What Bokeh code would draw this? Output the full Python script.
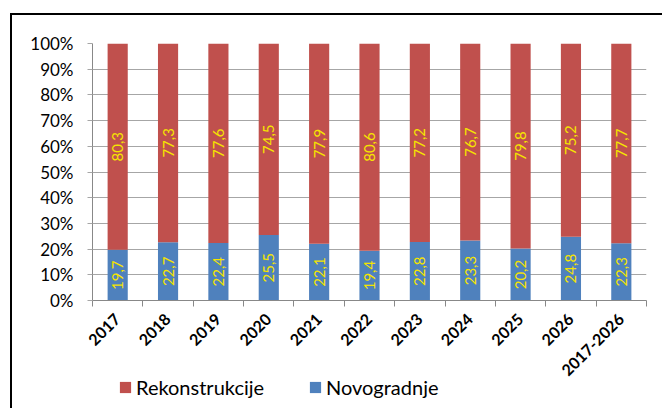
import math
from bokeh.plotting import figure
from bokeh.layouts import column
from bokeh.models import (Range1d, LinearAxis, FixedTicker,
                          PrintfTickFormatter, Legend, LegendItem, ColumnDataSource)
from bokeh.core.properties import value
from bokeh.embed import file_html
from bokeh.resources import INLINE

categories = ["2017", "2018", "2019", "2020", "2021", "2022", "2023", "2024", "2025", "2026", "2017-2026"]
novogradnje = [19.7, 22.7, 22.4, 25.5, 22.1, 19.4, 22.8, 23.3, 20.2, 24.8, 22.3]
rekonstrukcije = [80.3, 77.3, 77.6, 74.5, 77.9, 80.6, 77.2, 76.7, 79.8, 75.2, 77.7]
y_ticks = [0, 10, 20, 30, 40, 50, 60, 70, 80, 90, 100]

RED = "#C0504D"
BLUE = "#4F81BD"
LABEL = "#F5E400"
FONT = "Lato"

n = len(categories)
xs = [i + 0.5 for i in range(n)]

src = ColumnDataSource(dict(
    x=xs,
    novo=novogradnje,
    rek=rekonstrukcije,
    novo_mid=[v / 2 for v in novogradnje],
    rek_mid=[a + b / 2 for a, b in zip(novogradnje, rekonstrukcije)],
    novo_txt=[f"{v:.1f}".replace(".", ",") for v in novogradnje],
    rek_txt=[f"{v:.1f}".replace(".", ",") for v in rekonstrukcije],
))

p = figure(width=650, height=368, x_range=Range1d(0, n),
           y_range=Range1d(0, 100), output_backend="svg", toolbar_location=None,
           x_axis_location=None, y_axis_location=None,
           min_border_left=80, min_border_right=16, min_border_top=28, min_border_bottom=83)
p.outline_line_color = None
p.background_fill_color = "white"
p.border_fill_color = "white"

rs = p.vbar_stack(["novo", "rek"], x="x", width=0.4, color=[BLUE, RED], line_color=None, source=src)

p.text(x="x", y="novo_mid", text="novo_txt", angle=math.pi / 2, source=src,
       text_align="center", text_baseline="middle", text_color=LABEL,
       text_font=value(FONT), text_font_size="15px")
p.text(x="x", y="rek_mid", text="rek_txt", angle=math.pi / 2, source=src,
       text_align="center", text_baseline="middle", text_color=LABEL,
       text_font=value(FONT), text_font_size="15px")

# y axis
yax = LinearAxis(ticker=FixedTicker(ticks=y_ticks), formatter=PrintfTickFormatter(format="%d%%"))
yax.axis_line_color = "#888888"
yax.major_tick_line_color = "#a6a6a6"
yax.major_tick_out = 5
yax.major_tick_in = 0
yax.minor_tick_line_color = None
yax.major_label_standoff = 14
yax.major_label_text_font = FONT
yax.major_label_text_font_size = "17px"
yax.major_label_text_color = "black"
p.add_layout(yax, "left")

p.ygrid.ticker = FixedTicker(ticks=y_ticks)
p.ygrid.grid_line_color = "#a6a6a6"
p.xgrid.grid_line_color = None

# boundary ticks axis
bounds = list(range(n + 1))
tax = LinearAxis(ticker=FixedTicker(ticks=bounds))
tax.major_label_overrides = {i: "" for i in bounds}
tax.major_label_text_font_size = "1px"
tax.major_label_standoff = 0
tax.major_tick_out = 6
tax.major_tick_in = 0
tax.major_tick_line_color = "#888888"
tax.minor_tick_line_color = None
tax.axis_line_color = "#888888"
p.add_layout(tax, "below")

# category labels axis
cax = LinearAxis(ticker=FixedTicker(ticks=xs))
cax.major_label_overrides = {x: c for x, c in zip(xs, categories)}
cax.axis_line_color = None
cax.major_tick_line_color = None
cax.minor_tick_line_color = None
cax.major_tick_out = 0
cax.major_tick_in = 0
cax.major_label_orientation = math.pi / 4
cax.major_label_standoff = 10
cax.major_label_text_font = FONT
cax.major_label_text_font_style = "bold"
cax.major_label_text_font_size = "16px"
cax.major_label_text_color = "black"
p.add_layout(cax, "below")

# legend strip (its bars lie outside the visible y range); transparent, overlapping the axis area
lf = figure(width=650, height=35, x_range=Range1d(0, n), y_range=Range1d(200, 300),
            output_backend="svg", toolbar_location=None,
            x_axis_location=None, y_axis_location=None,
            min_border_left=0, min_border_right=0, min_border_top=0, min_border_bottom=0)
lf.outline_line_color = None
lf.background_fill_alpha = 0
lf.border_fill_alpha = 0
lf.xgrid.visible = False
lf.ygrid.visible = False
lf.styles = {"margin-top": "-10px"}
lrs = lf.vbar_stack(["novo", "rek"], x="x", width=0.4, color=[BLUE, RED], line_color=None, source=src)

legend = Legend(items=[LegendItem(label="Rekonstrukcije", renderers=[lrs[1]]),
                       LegendItem(label="Novogradnje", renderers=[lrs[0]])],
                orientation="horizontal", location=(26, 9),
                glyph_width=14, glyph_height=14, label_standoff=4, label_width=172, spacing=0,
                padding=0, margin=0, border_line_color=None, background_fill_alpha=0,
                label_text_font=FONT, label_text_font_size="20px", label_text_color="black")
lf.add_layout(legend, "center")

layout = column(p, lf, spacing=0)
layout.styles = {"margin-left": "10px", "margin-top": "13px",
                 "border-left": "2px solid black", "border-top": "2px solid black"}

open("out.html", "w").write(file_html(layout, INLINE))
